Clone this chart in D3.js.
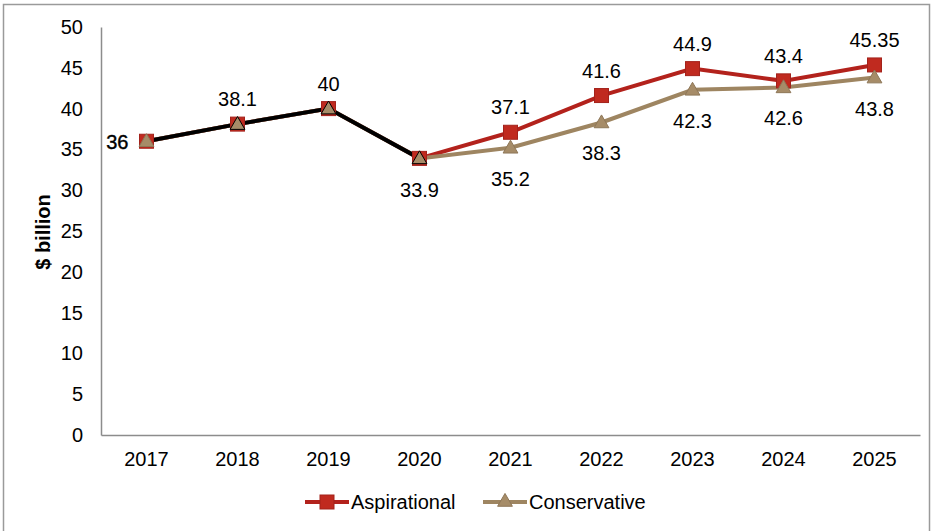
<!DOCTYPE html>
<html>
<head>
<meta charset="utf-8">
<script src="https://cdn.jsdelivr.net/npm/d3@7"></script>
<style>
  body { margin: 0; background: #fff; }
  svg { display: block; font-family: "Liberation Sans", Arial, sans-serif; }
</style>
</head>
<body>
<svg width="932" height="531"></svg>
<script>
/* Data */
const years = ['2017', '2018', '2019', '2020', '2021', '2022', '2023', '2024', '2025'];
const aspirational = [36, 38.1, 40, 33.9, 37.1, 41.6, 44.9, 43.4, 45.35];
const conservative = [36, 38.1, 40, 33.9, 35.2, 38.3, 42.3, 42.6, 43.8];
const historical = [36, 38.1, 40, 33.9];
const yTicks = [0, 5, 10, 15, 20, 25, 30, 35, 40, 45, 50];

/* Colors */
const RED = '#B3221C';
const RED_FILL = '#C02A1F';
const TAN = '#9E8561';
const TAN_FILL = '#A68C68';
const FS = 20;

const svg = d3.select('svg');

/* outer frame */
svg.append('rect')
  .attr('x', 3.5).attr('y', 4.5)
  .attr('width', 926).attr('height', 540)
  .attr('fill', 'none')
  .attr('stroke', '#9a9a9a')
  .attr('stroke-width', 1.5);

/* Scales */
const x = d3.scaleBand().domain(years).range([101, 920]);
const y = d3.scaleLinear().domain([0, 50]).range([435, 27]);
const cx = d => x(d) + x.bandwidth() / 2;

/* Axes */
const yAxis = svg.append('g')
  .attr('transform', 'translate(101,0)')
  .call(d3.axisLeft(y).tickValues(yTicks).tickSize(0).tickPadding(18));
yAxis.select('.domain').attr('stroke', '#8c8c8c').attr('stroke-width', 1.5);
yAxis.selectAll('text').attr('font-size', FS).attr('fill', '#000').attr('font-family', null);

const xAxis = svg.append('g')
  .attr('transform', 'translate(0,435)')
  .call(d3.axisBottom(x).tickSize(0).tickPadding(17));
xAxis.select('.domain').attr('stroke', '#8c8c8c').attr('stroke-width', 1.5);
xAxis.selectAll('text').attr('font-size', FS).attr('fill', '#000').attr('font-family', null);

svg.append('text')
  .attr('transform', 'translate(50,232) rotate(-90)')
  .attr('text-anchor', 'middle')
  .attr('font-size', 20)
  .attr('font-weight', 'bold')
  .text('$ billion');

/* Lines */
const line = d3.line().x((d, i) => cx(years[i])).y(d => y(d));

svg.append('path').datum(aspirational)
  .attr('d', line).attr('fill', 'none')
  .attr('stroke', RED).attr('stroke-width', 4);
svg.append('path').datum(conservative)
  .attr('d', line).attr('fill', 'none')
  .attr('stroke', TAN).attr('stroke-width', 4);
svg.append('path').datum(historical)
  .attr('d', line).attr('fill', 'none')
  .attr('stroke', '#000').attr('stroke-width', 4);

/* Markers */
const tri = d3.symbol().type(d3.symbolTriangle).size(95);

svg.append('g').selectAll('rect').data(aspirational)
  .enter().append('rect')
  .attr('x', (d, i) => cx(years[i]) - 7)
  .attr('y', d => y(d) - 7)
  .attr('width', 14).attr('height', 14)
  .attr('fill', RED_FILL)
  .attr('stroke', '#a3221b').attr('stroke-width', 1);

svg.append('g').selectAll('path').data(conservative)
  .enter().append('path')
  .attr('d', tri)
  .attr('transform', (d, i) => `translate(${cx(years[i])},${y(d) + 1})`)
  .attr('fill', TAN_FILL)
  .attr('stroke', (d, i) => i > 0 && i < historical.length ? '#000' : '#8e7758')
  .attr('stroke-width', 1);

/* Data labels */
const labels = svg.append('g').attr('font-size', FS).attr('fill', '#000');

labels.selectAll('text.asp').data(aspirational)
  .enter().append('text')
  .attr('class', 'asp')
  .attr('text-anchor', (d, i) => i === 0 ? 'end' : 'middle')
  .attr('x', (d, i) => i === 0 ? cx(years[i]) - 18 : cx(years[i]))
  .attr('y', (d, i) => {
    if (i === 0) return y(d) + 8;
    if (i === 3) return y(d) + 39;
    return y(d) - 18;
  })
  .attr('stroke', (d, i) => i === 0 ? '#000' : null)
  .attr('stroke-width', (d, i) => i === 0 ? 0.4 : null)
  .text(d => d);

labels.selectAll('text.con').data(conservative)
  .enter().append('text')
  .attr('class', 'con')
  .attr('text-anchor', 'middle')
  .attr('x', (d, i) => cx(years[i]))
  .attr('y', d => y(d) + 38)
  .text((d, i) => i < historical.length ? '' : d);

/* Legend */
const legend = svg.append('g').attr('font-size', FS);
const items = [
  { name: 'Aspirational', x: 305, stroke: RED, fill: RED_FILL, shape: 'square' },
  { name: 'Conservative', x: 483, stroke: TAN, fill: TAN_FILL, shape: 'tri' }
];
items.forEach(it => {
  const g = legend.append('g').attr('transform', `translate(${it.x},502)`);
  g.append('line').attr('x1', 0).attr('x2', 44)
    .attr('stroke', it.stroke).attr('stroke-width', 4);
  if (it.shape === 'square') {
    g.append('rect').attr('x', 15).attr('y', -7).attr('width', 14).attr('height', 14)
      .attr('fill', it.fill).attr('stroke', '#a3221b');
  } else {
    g.append('path').attr('d', tri).attr('transform', 'translate(22,0)')
      .attr('fill', it.fill).attr('stroke', '#8e7758');
  }
  g.append('text').attr('x', 46).attr('y', 7).text(it.name);
});
</script>
</body>
</html>
